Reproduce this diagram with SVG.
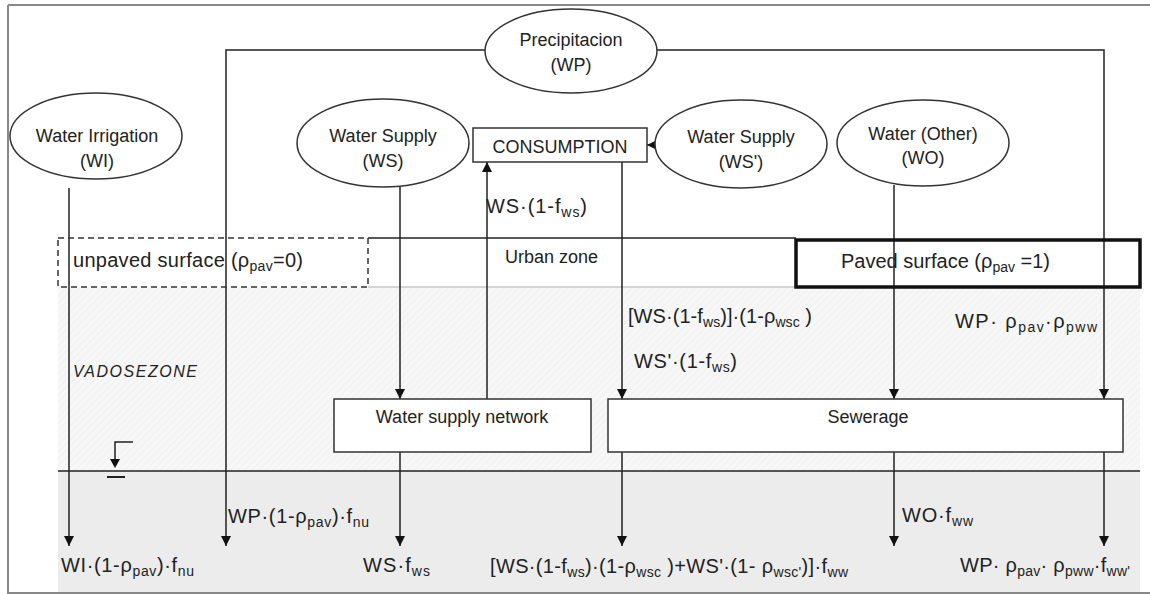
<svg xmlns="http://www.w3.org/2000/svg" width="1150" height="594" viewBox="0 0 1150 594">
<defs>
<style>
.t{font-family:"Liberation Sans",Arial,sans-serif;font-size:18px;fill:#222}
.f{font-size:20px}
.sb{font-size:14px}
.it{font-style:italic;font-size:16px;letter-spacing:1px}
.el{fill:#fff;stroke:#333;stroke-width:1.5}
.bx{fill:#fff;stroke:#333;stroke-width:1.5}
.ln{fill:none;stroke:#222;stroke-width:1.5}
</style>
<pattern id="hatch" width="5" height="5" patternUnits="userSpaceOnUse" patternTransform="rotate(45)">
<rect width="5" height="5" fill="#f7f7f7"/>
<line x1="0" y1="0" x2="0" y2="5" stroke="#ebebeb" stroke-width="1"/>
</pattern>
<marker id="ah" markerUnits="userSpaceOnUse" markerWidth="11" markerHeight="11" refX="10" refY="5" orient="auto">
<path d="M0,0 L10,5 L0,10 z" fill="#111"/>
</marker>
<marker id="ahs" markerUnits="userSpaceOnUse" markerWidth="9" markerHeight="9" refX="8" refY="4" orient="auto">
<path d="M0,0 L8,4 L0,8 z" fill="#111"/>
</marker>
</defs>

<g id="background">
<rect x="0" y="0" width="1150" height="594" fill="#fff"/>
<rect x="58" y="288" width="1082" height="183" fill="url(#hatch)"/>
<rect x="58" y="471" width="1082" height="122" fill="#ececec"/>
<path d="M8,5 H1150 M8,5 V593 H1150" fill="none" stroke="#888" stroke-width="2"/>
</g>

<g id="zones">
<line x1="368" y1="238" x2="796" y2="238" class="ln"/>
<line x1="368" y1="287" x2="796" y2="287" stroke="#aaa" stroke-width="1"/>
<line x1="58" y1="471" x2="1140" y2="471" class="ln"/>
<path d="M133,442 H115 V462" class="ln"/>
<path d="M110,459 L120,459 L115,468 z" fill="#111"/>
<line x1="107" y1="477" x2="125" y2="477" stroke="#222" stroke-width="2"/>
<text class="t it" x="73" y="377" textLength="125" lengthAdjust="spacing">VADOSEZONE</text>
<text class="t" x="505" y="263">Urban zone</text>
</g>

<g id="connectors">
<path d="M485,50 H226 V546" class="ln" marker-end="url(#ah)"/>
<path d="M657,50 H1104 V399" class="ln" marker-end="url(#ah)"/>
<path d="M1104,452 V546" class="ln" marker-end="url(#ah)"/>
<path d="M69,188 V546" class="ln" marker-end="url(#ah)"/>
<path d="M400,186 V399" class="ln" marker-end="url(#ah)"/>
<path d="M400,452 V546" class="ln" marker-end="url(#ah)"/>
<path d="M487,399 V162" class="ln" marker-end="url(#ah)"/>
<path d="M656,145 H647" class="ln" marker-end="url(#ahs)"/>
<path d="M622,162 V399" class="ln" marker-end="url(#ah)"/>
<path d="M622,452 V546" class="ln" marker-end="url(#ah)"/>
<path d="M894,185 V399" class="ln" marker-end="url(#ah)"/>
<path d="M894,452 V546" class="ln" marker-end="url(#ah)"/>
</g>

<g id="unpaved">
<rect x="58" y="238" width="310" height="49" fill="none" stroke="#333" stroke-width="1.5" stroke-dasharray="6,4"/>
<text class="t f" x="73" y="267" textLength="230" lengthAdjust="spacing">unpaved surface  (ρ<tspan class="sb" dy="4">pav</tspan><tspan dy="-4">=0)</tspan></text>
</g>

<g id="paved">
<rect x="796" y="240" width="344" height="47" fill="none" stroke="#111" stroke-width="3.5"/>
<text class="t f" x="841" y="268" textLength="209" lengthAdjust="spacing">Paved surface (ρ<tspan class="sb" dy="4">pav</tspan><tspan dy="-4"> =1)</tspan></text>
</g>

<g id="precipitation">
<ellipse cx="571" cy="51" rx="86" ry="42" class="el"/>
<text class="t" x="571" y="46" text-anchor="middle">Precipitacion</text>
<text class="t" x="571" y="71" text-anchor="middle">(WP)</text>
</g>

<g id="water-irrigation">
<ellipse cx="96" cy="136" rx="86" ry="43" class="el"/>
<text class="t" x="97" y="142" text-anchor="middle">Water Irrigation</text>
<text class="t" x="97" y="167" text-anchor="middle">(WI)</text>
</g>

<g id="water-supply">
<ellipse cx="383" cy="143" rx="86" ry="44" class="el"/>
<text class="t" x="383" y="142" text-anchor="middle">Water Supply</text>
<text class="t" x="383" y="167" text-anchor="middle">(WS)</text>
</g>

<g id="consumption">
<rect x="473" y="128" width="174" height="34" class="bx"/>
<text class="t" x="560" y="153" text-anchor="middle">CONSUMPTION</text>
</g>

<g id="water-supply-2">
<ellipse cx="741" cy="144" rx="86" ry="44" class="el"/>
<text class="t" x="741" y="143" text-anchor="middle">Water Supply</text>
<text class="t" x="741" y="168" text-anchor="middle">(WS')</text>
</g>

<g id="water-other">
<ellipse cx="923" cy="143" rx="86" ry="43" class="el"/>
<text class="t" x="923" y="140" text-anchor="middle">Water (Other)</text>
<text class="t" x="923" y="164" text-anchor="middle">(WO)</text>
</g>

<g id="water-supply-network">
<rect x="334" y="399" width="257" height="53" class="bx"/>
<text class="t" x="462" y="423" text-anchor="middle">Water supply network</text>
</g>

<g id="sewerage">
<rect x="608" y="399" width="515" height="53" class="bx"/>
<text class="t" x="868" y="423" text-anchor="middle">Sewerage</text>
</g>

<g id="labels">
<text class="t f" x="486" y="213" textLength="101" lengthAdjust="spacing">WS·(1-f<tspan class="sb" dy="4">ws</tspan><tspan dy="-4">)</tspan></text>
<text class="t f" x="628" y="323" textLength="184" lengthAdjust="spacing">[WS·(1-f<tspan class="sb" dy="4">ws</tspan><tspan dy="-4">)]·(1-ρ</tspan><tspan class="sb" dy="4">wsc</tspan><tspan dy="-4"> )</tspan></text>
<text class="t f" x="634" y="368" textLength="103" lengthAdjust="spacing">WS'·(1-f<tspan class="sb" dy="4">ws</tspan><tspan dy="-4">)</tspan></text>
<text class="t f" x="955" y="328" textLength="142" lengthAdjust="spacing">WP· ρ<tspan class="sb" dy="4">pav</tspan><tspan dy="-4">·ρ</tspan><tspan class="sb" dy="4">pww</tspan></text>
<text class="t f" x="228" y="523" textLength="141" lengthAdjust="spacing">WP·(1-ρ<tspan class="sb" dy="4">pav</tspan><tspan dy="-4">)·f</tspan><tspan class="sb" dy="4">nu</tspan></text>
<text class="t f" x="902" y="522" textLength="71" lengthAdjust="spacing">WO·f<tspan class="sb" dy="4">ww</tspan></text>
<text class="t f" x="61" y="572" textLength="133" lengthAdjust="spacing">WI·(1-ρ<tspan class="sb" dy="4">pav</tspan><tspan dy="-4">)·f</tspan><tspan class="sb" dy="4">nu</tspan></text>
<text class="t f" x="363" y="572" textLength="67" lengthAdjust="spacing">WS·f<tspan class="sb" dy="4">ws</tspan></text>
<text class="t f" x="490" y="573" textLength="358" lengthAdjust="spacing">[WS·(1-f<tspan class="sb" dy="4">ws</tspan><tspan dy="-4">)·(1-ρ</tspan><tspan class="sb" dy="4">wsc</tspan><tspan dy="-4"> )+WS'·(1- ρ</tspan><tspan class="sb" dy="4">wsc'</tspan><tspan dy="-4">)]·f</tspan><tspan class="sb" dy="4">ww</tspan></text>
<text class="t f" x="960" y="572" textLength="170" lengthAdjust="spacing">WP· ρ<tspan class="sb" dy="4">pav</tspan><tspan dy="-4">· ρ</tspan><tspan class="sb" dy="4">pww</tspan><tspan dy="-4">·f</tspan><tspan class="sb" dy="4">ww'</tspan></text>
</g>
</svg>
